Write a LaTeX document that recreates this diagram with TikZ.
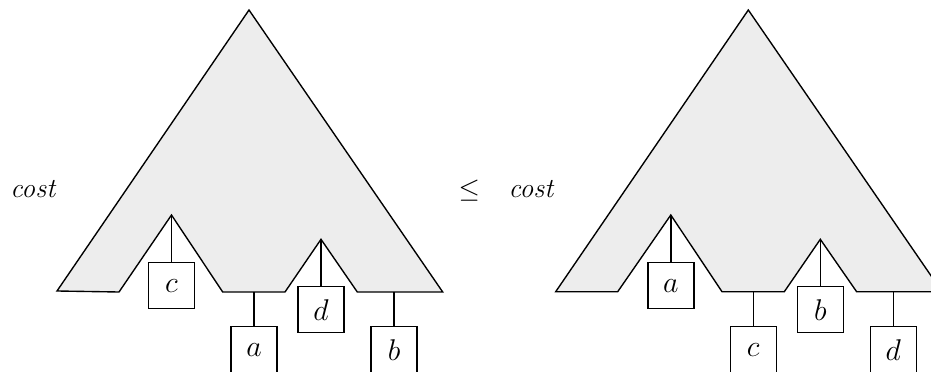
\documentclass[tikz,border=0pt]{standalone}
\begin{document}
\begin{tikzpicture}[x=0.4pt,y=-0.4pt,
  treefill/.style={draw=black,fill=black!7,line width=0.55pt,line join=miter},
  leafbox/.style={draw=black,fill=white,line width=0.55pt,minimum width=18.4pt,minimum height=18.4pt,inner sep=0pt,font=\fontsize{13}{15}\selectfont},
  link/.style={draw=black,line width=0.55pt},
  lbl/.style={inner sep=0pt,anchor=base west,font=\fontsize{11}{13}\selectfont}]
\useasboundingbox (0,0) rectangle (931,372);
\clip (0,0) rectangle (931,372);
% left tree
\path[treefill] (57,291) -- (119,292) -- (171.5,215) -- (222.7,292) -- (285,292) -- (321,239.3) -- (357.3,292) -- (442.7,292) -- (249,10) -- cycle;
\node[leafbox] (Lc) at (171.5,285.7) {$c$};
\node[leafbox] (La) at (254,349.7) {$a$};
\node[leafbox] (Ld) at (321,309.8) {$d$};
\node[leafbox] (Lb) at (394,349.7) {$b$};
\coordinate (Lpc) at (171.5,215);
\coordinate (Lpd) at (321,239.3);
\coordinate (Lpa) at (254,292);
\coordinate (Lpb) at (394,292);
\draw[link] (Lpc) -- (Lc.north);
\draw[link] (Lpd) -- (Ld.north);
\draw[link] (Lpa) -- (La.north);
\draw[link] (Lpb) -- (Lb.north);
% right tree
\begin{scope}[shift={(499.3,0)}]
\path[treefill] (56.4,291.7) -- (118.4,291.7) -- (171.5,215) -- (222.7,291.7) -- (285,291.7) -- (321,239.3) -- (357.3,291.7) -- (442.7,291.7) -- (249,10) -- cycle;
\node[leafbox] (Ra) at (171.5,285.7) {$a$};
\node[leafbox] (Rc) at (254,349.7) {$c$};
\node[leafbox] (Rb) at (321,309.8) {$b$};
\node[leafbox] (Rd) at (394,349.7) {$d$};
\coordinate (Rpa) at (171.5,215);
\coordinate (Rpb) at (321,239.3);
\coordinate (Rpc) at (254,291.7);
\coordinate (Rpd) at (394,291.7);
\draw[link] (Rpa) -- (Ra.north);
\draw[link] (Rpb) -- (Rb.north);
\draw[link] (Rpc) -- (Rc.north);
\draw[link] (Rpd) -- (Rd.north);
\end{scope}
% labels
\node[lbl] (cost1) at (10,198) {\textit{cost}};
\node[lbl,font=\fontsize{10.5}{12}\selectfont] (leq) at (458,198) {$\leq$};
\node[lbl] (cost2) at (508,198) {\textit{cost}};
\end{tikzpicture}
\end{document}
